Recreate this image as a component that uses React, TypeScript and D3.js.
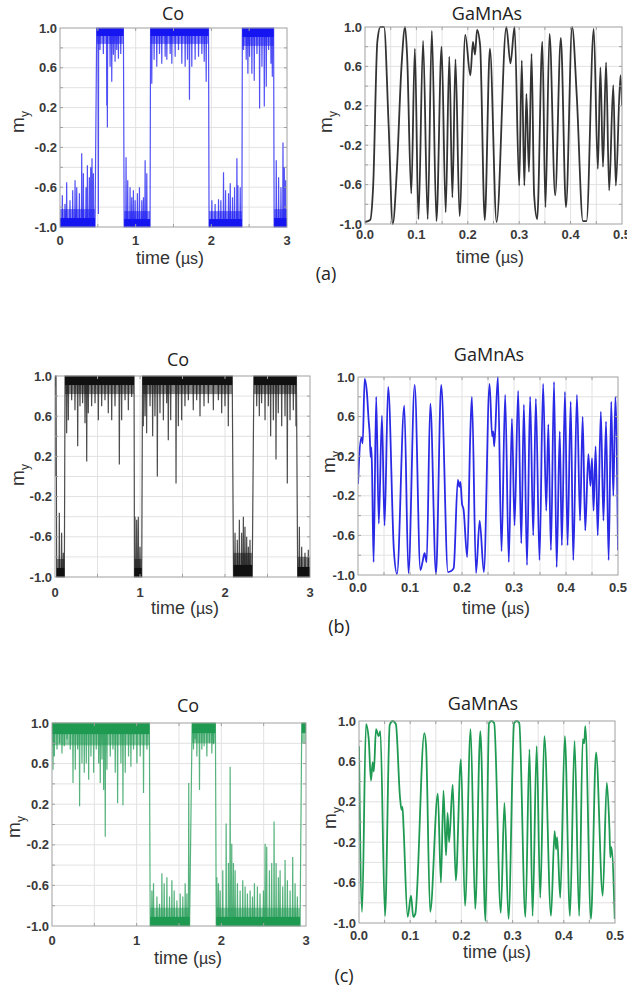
import React from "react";
import * as d3 from "d3";

type Pt = [number, number];
type Seg = [number, number, number, number]; // t0, t1, level, band edge

// ---------- axis values ----------
const yTickValues = [-1.0, -0.6, -0.2, 0.2, 0.6, 1.0];
const yGridValues = [-0.8, -0.6, -0.4, -0.2, 0, 0.2, 0.4, 0.6, 0.8];
const coTickValues = [0, 1, 2, 3];
const coGridValues = [0.5, 1, 1.5, 2, 2.5];
const gaTickValues = [0, 0.1, 0.2, 0.3, 0.4, 0.5];
const gaGridValues = [0.05, 0.1, 0.15, 0.2, 0.25, 0.3, 0.35, 0.4, 0.45];
const panelLetters = ["(a)", "(b)", "(c)"];
const panelTitles = ["Co", "GaMnAs"];

// ---------- Co (a) blue ----------
const coA_segments: Seg[] = [
  [0, 0.463, -1, -0.82],
  [0.485, 0.838, 1, 0.84],
  [0.848, 1.19, -1, -0.84],
  [1.197, 1.963, 1, 0.84],
  [1.97, 2.404, -1, -0.84],
  [2.41, 2.823, 1, 0.82],
  [2.83, 3.0, -1, -0.82],
];
const coA_spikes: Pt[] = [
  [0.031, -0.68], [0.066, -0.77], [0.088, -0.55], [0.132, -0.73], [0.168, -0.63], [0.199, -0.53], [0.221, -0.6],
  [0.256, -0.66], [0.287, -0.26], [0.309, -0.46], [0.344, -0.6], [0.362, -0.38], [0.388, -0.5], [0.406, -0.4],
  [0.423, -0.31], [0.441, -0.46],
  [0.507, -0.87], [0.529, 0.78], [0.573, 0.74], [0.618, 0.22], [0.626, 0.0], [0.662, 0.61], [0.684, 0.46],
  [0.706, 0.73], [0.728, 0.66], [0.75, 0.78], [0.772, 0.69], [0.803, 0.74],
  [0.873, -0.3], [0.895, -0.53], [0.926, -0.6], [0.948, -0.7], [0.97, -0.63], [0.993, -0.73], [1.023, -0.66],
  [1.05, -0.6], [1.081, -0.73], [1.103, -0.7], [1.125, -0.33], [1.147, -0.46],
  [1.213, 0.44], [1.244, 0.68], [1.279, 0.61], [1.315, 0.74], [1.345, 0.64], [1.39, 0.71], [1.412, 0.68],
  [1.456, 0.74], [1.478, 0.64], [1.522, 0.71], [1.566, 0.78], [1.61, 0.64], [1.654, 0.61], [1.685, 0.68],
  [1.711, 0.28], [1.742, 0.61], [1.786, 0.68], [1.831, 0.71], [1.875, 0.74], [1.906, 0.66], [1.932, 0.46],
  [2.007, -0.73], [2.05, -0.77], [2.095, -0.72], [2.126, -0.73], [2.161, -0.45], [2.188, -0.63], [2.227, -0.66],
  [2.25, -0.56], [2.28, -0.7], [2.307, -0.6], [2.338, -0.31], [2.351, -0.58], [2.382, -0.6],
  [2.426, 0.78], [2.461, 0.68], [2.483, 0.54], [2.505, 0.71], [2.536, 0.54], [2.567, 0.47], [2.603, 0.74],
  [2.638, 0.19], [2.669, 0.61], [2.7, 0.21], [2.726, 0.41], [2.757, 0.78], [2.788, 0.64], [2.806, 0.51],
  [2.858, -0.33], [2.889, -0.5], [2.92, -0.6], [2.947, -0.15], [2.964, -0.4], [2.982, -0.53],
];

// ---------- GaMnAs (a) black ----------
const gaA_values: Pt[] = [
  [0.0, -0.98], [0.01, -0.96], [0.016, -0.6], [0.024, 0.85], [0.03, 1.0], [0.037, 1.0], [0.046, 0.0], [0.054, -1.0],
  [0.062, -0.45], [0.071, 0.6], [0.078, 1.0], [0.082, 0.7], [0.09, -0.69], [0.097, 0.78], [0.104, -0.95],
  [0.113, 0.86], [0.122, -0.95], [0.13, 0.96], [0.139, -0.97], [0.149, 0.8], [0.157, -0.88], [0.164, 0.7],
  [0.17, -0.73], [0.176, 0.67], [0.184, -0.92], [0.195, 0.92], [0.205, 0.51], [0.21, 0.85], [0.214, 0.72],
  [0.218, 0.97], [0.224, 0.81], [0.233, -0.96], [0.243, 0.78], [0.256, -0.98], [0.275, 1.0], [0.283, 0.63],
  [0.291, 1.0], [0.3, -0.61], [0.305, 0.66], [0.31, -0.61], [0.314, 0.32], [0.319, -0.47], [0.324, 0.73],
  [0.329, -0.7], [0.335, -0.95], [0.345, 0.85], [0.351, -0.83], [0.359, 0.93], [0.37, -0.71], [0.381, 0.89],
  [0.391, -0.83], [0.403, 1.0], [0.412, 0.3], [0.424, -0.97], [0.431, -0.97], [0.445, 0.98], [0.453, -0.44],
  [0.458, 0.59], [0.463, -0.42], [0.469, 0.64], [0.475, -0.66], [0.483, 0.41], [0.488, -0.61], [0.497, 0.51],
  [0.5, 0.2],
];

// ---------- Co (b) black ----------
const coB_segments: Seg[] = [
  [0, 0.012, 1, 0.8],
  [0.02, 0.11, -1, -0.82],
  [0.118, 0.93, 1, 0.82],
  [0.935, 1.02, -1, -0.82],
  [1.03, 2.085, 1, 0.82],
  [2.1, 2.32, -1, -0.76],
  [2.34, 2.84, 1, 0.82],
  [2.855, 3.0, -1, -0.8],
];
const coB_spikes: Pt[] = [
  [0.006, 0.0], [0.051, -0.36], [0.078, -0.56], [0.098, -0.76],
  [0.137, 0.43], [0.157, 0.56], [0.196, 0.76], [0.235, 0.66], [0.267, 0.3], [0.294, 0.7], [0.325, 0.73],
  [0.353, 0.53], [0.373, 0.15], [0.392, 0.63], [0.431, 0.7], [0.471, 0.73], [0.51, 0.56], [0.549, 0.7],
  [0.588, 0.76], [0.627, 0.63], [0.667, 0.56], [0.706, 0.7], [0.757, 0.12], [0.784, 0.56], [0.824, 0.76],
  [0.863, 0.66], [0.902, 0.79],
  [0.941, -0.4], [0.961, -0.43], [0.98, -0.4], [1.0, -0.7],
  [1.039, 0.5], [1.059, 0.6], [1.078, 0.43], [1.118, 0.7], [1.149, 0.4], [1.176, 0.6], [1.204, 0.0],
  [1.235, 0.63], [1.275, 0.56], [1.314, 0.73], [1.333, 0.36], [1.361, 0.56], [1.424, -0.07], [1.451, 0.5],
  [1.49, 0.56], [1.529, 0.7], [1.569, 0.76], [1.627, 0.66], [1.667, 0.76], [1.706, 0.6], [1.753, 0.7],
  [1.804, 0.73], [1.863, 0.66], [1.922, 0.76], [1.961, 0.63], [2.0, 0.7], [2.039, 0.5],
  [2.118, -0.56], [2.145, -0.63], [2.169, -0.43], [2.196, -0.56], [2.216, -0.4], [2.235, -0.5], [2.255, -0.6],
  [2.275, -0.7], [2.294, -0.63],
  [2.373, 0.7], [2.404, 0.6], [2.431, 0.73], [2.471, 0.56], [2.51, 0.7], [2.537, 0.4], [2.569, 0.56],
  [2.6, 0.17], [2.627, 0.63], [2.667, 0.5], [2.706, 0.6], [2.733, -0.07], [2.765, 0.56], [2.804, 0.66],
  [2.835, 0.5],
  [2.875, -0.5], [2.902, -0.7], [2.941, -0.76], [2.98, -0.73],
];

// ---------- GaMnAs (b) blue ----------
const gaB_values: Pt[] = [
  [0.0, -0.08], [0.002, 0.16], [0.0065, 0.39], [0.009, 0.33], [0.0128, 0.98], [0.0173, 0.83], [0.0205, 0.56],
  [0.0224, 0.43], [0.0244, 0.19], [0.0256, 0.29], [0.027, 0.06], [0.03, -0.87], [0.035, 0.8], [0.04, -0.48],
  [0.046, 0.61], [0.051, -0.5], [0.058, 0.9], [0.069, -0.75], [0.075, -0.99], [0.089, 0.71], [0.097, -0.98],
  [0.109, 0.92], [0.12, -0.95], [0.124, -0.87], [0.128, -0.78], [0.132, -0.87], [0.139, 0.73], [0.15, -0.99],
  [0.16, 0.92], [0.173, -0.97], [0.179, -0.96], [0.184, -0.93], [0.192, -0.04], [0.195, -0.11], [0.197, -0.06],
  [0.2, -0.28], [0.203, -0.34], [0.21, -0.82], [0.216, 0.43], [0.219, 0.8], [0.227, -0.98], [0.234, -0.45],
  [0.242, -0.97], [0.253, 0.93], [0.258, 0.4], [0.26, 0.45], [0.262, 0.3], [0.269, 1.0], [0.276, -0.76],
  [0.283, 0.82], [0.29, -0.87], [0.296, 0.58], [0.301, -0.5], [0.308, 0.86], [0.314, -0.68], [0.319, 0.72],
  [0.325, -0.9], [0.331, 0.8], [0.337, -0.6], [0.342, 0.78], [0.349, -0.85], [0.356, 0.93], [0.362, -0.35],
  [0.366, 0.52], [0.371, -0.75], [0.377, 0.95], [0.382, -0.92], [0.388, 0.45], [0.392, -0.7], [0.398, 0.85],
  [0.403, -0.7], [0.409, 0.75], [0.414, -0.85], [0.421, 0.82], [0.427, -0.45], [0.432, 0.6], [0.437, -0.55],
  [0.443, 0.22], [0.447, -0.1], [0.45, 0.18], [0.453, -0.35], [0.457, 0.3], [0.461, -0.6], [0.467, 0.65],
  [0.472, -0.45], [0.477, 0.55], [0.482, -0.85], [0.487, 0.75], [0.491, -0.2], [0.495, 0.8], [0.5, -0.75],
];

// ---------- Co (c) green ----------
const coC_segments: Seg[] = [
  [0, 1.15, 1, 0.78],
  [1.16, 1.625, -1, -0.82],
  [1.655, 1.93, 1, 0.8],
  [1.94, 2.93, -1, -0.82],
  [2.95, 3.0, 1, 0.8],
];
const coC_spikes: Pt[] = [
  [0.012, 0.54], [0.028, 0.67], [0.059, 0.74], [0.09, 0.8], [0.118, 0.7], [0.145, 0.77], [0.177, 0.84],
  [0.216, 0.74], [0.248, 0.41], [0.275, 0.54], [0.303, 0.74], [0.326, 0.18], [0.354, 0.6], [0.381, 0.51],
  [0.405, 0.6], [0.433, 0.44], [0.46, 0.67], [0.492, 0.51], [0.523, 0.74], [0.551, 0.6], [0.57, 0.41],
  [0.59, 0.64], [0.61, 0.34], [0.629, -0.12], [0.649, 0.54], [0.688, 0.67], [0.72, 0.74], [0.747, 0.51],
  [0.775, 0.21], [0.814, 0.6], [0.838, 0.19], [0.865, 0.51], [0.904, 0.67], [0.932, 0.57], [0.963, 0.74],
  [1.003, 0.6], [1.042, 0.67], [1.081, 0.31], [1.121, 0.74],
  [1.18, -0.65], [1.199, -0.58], [1.239, -0.71], [1.27, -0.78], [1.298, -0.48], [1.325, -0.58], [1.357, -0.52],
  [1.388, -0.71], [1.416, -0.55], [1.443, -0.65], [1.475, -0.75], [1.514, -0.68], [1.545, -0.71], [1.573, -0.58],
  [1.593, -0.68], [1.615, 0.41],
  [1.671, 0.74], [1.691, 0.84], [1.711, 0.67], [1.742, 0.34], [1.77, 0.74], [1.797, 0.77], [1.829, 0.67],
  [1.86, 0.8], [1.888, 0.7], [1.907, 0.79],
  [1.947, -0.52], [1.966, -0.58], [1.986, -0.65], [2.017, -0.45], [2.057, 0.01], [2.084, -0.38], [2.104, 0.57],
  [2.123, -0.19], [2.143, -0.38], [2.163, -0.45], [2.19, -0.58], [2.222, -0.65], [2.253, -0.55], [2.281, -0.61],
  [2.308, -0.68], [2.34, -0.65], [2.368, -0.71], [2.391, -0.58], [2.426, -0.61], [2.457, -0.68], [2.497, -0.65],
  [2.517, -0.19], [2.536, -0.22], [2.568, -0.45], [2.595, -0.38], [2.623, 0.03], [2.647, -0.38], [2.674, -0.52],
  [2.694, -0.45], [2.725, -0.61], [2.753, -0.35], [2.78, -0.55], [2.812, -0.65], [2.843, -0.32], [2.871, -0.58],
  [2.898, -0.71],
];

// ---------- GaMnAs (c) green ----------
const gaC_values: Pt[] = [
  [0.0, 0.75], [0.006, -0.89], [0.0137, 0.97], [0.019, 0.82], [0.0234, 0.41], [0.0267, 0.59], [0.029, 0.5],
  [0.0332, 0.92], [0.0384, 0.85], [0.0417, 0.9], [0.0508, -0.93], [0.06, 0.96], [0.066, 1.0], [0.072, 0.97],
  [0.08, 0.25], [0.083, 0.12], [0.085, 0.15], [0.087, -0.05], [0.095, -0.94], [0.1016, -0.73], [0.106, -0.94],
  [0.11, -0.91], [0.1276, 0.88], [0.131, 0.75], [0.139, -0.89], [0.154, 0.28], [0.16, -0.6], [0.165, 0.31],
  [0.17, -0.33], [0.173, 0.09], [0.176, -0.2], [0.183, 0.37], [0.189, -0.58], [0.199, 0.62], [0.207, -0.83],
  [0.218, 0.92], [0.227, -0.86], [0.237, 0.9], [0.247, -0.98], [0.254, 0.98], [0.259, 1.0], [0.264, 0.98],
  [0.277, -0.9], [0.284, 0.19], [0.292, -0.96], [0.303, 0.98], [0.308, 1.0], [0.313, 0.98], [0.325, -0.94],
  [0.333, 0.72], [0.339, -0.93], [0.347, 0.75], [0.354, -0.75], [0.362, 0.85], [0.375, -0.93], [0.382, -0.09],
  [0.385, -0.27], [0.387, -0.15], [0.393, -0.75], [0.402, 0.85], [0.412, -0.93], [0.421, 0.8], [0.43, -0.93],
  [0.437, 0.82], [0.44, 0.78], [0.442, 0.95], [0.453, -0.96], [0.463, 0.69], [0.476, -0.73], [0.484, 0.39],
  [0.489, -0.05], [0.491, -0.35], [0.493, -0.25], [0.4995, -0.96],
];

// ---------- layout ----------
type Lay = {
  L: number; R: number; T: number; B: number;
  titleX: number; titleY: number; tickY: number;
  timeX: number; timeY: number; myX: number; myY: number;
};

const LAB = "'Liberation Sans', Arial, sans-serif";
const TIT = "'Open Sans', 'Noto Sans', sans-serif";

function coPath(segs: Seg[], spikes: Pt[]): Pt[] {
  const pts: Pt[] = [];
  segs.forEach(([t0, t1, lvl]) => {
    pts.push([t0, lvl]);
    spikes
      .filter((s) => s[0] > t0 && s[0] < t1)
      .forEach(([t, v]) => {
        pts.push([t - 0.004, lvl], [t, v], [t + 0.004, lvl]);
      });
    pts.push([t1, lvl]);
  });
  return pts;
}

function Panel(props: {
  lay: Lay; xMax: number; xTicks: number[]; xGrid: number[]; fmt: (v: number) => string;
  title: string; render: (x: d3.ScaleLinear<number, number>, y: d3.ScaleLinear<number, number>) => React.ReactNode;
}) {
  const { lay, xMax, xTicks, xGrid, fmt, title, render } = props;
  const x = d3.scaleLinear().domain([0, xMax]).range([lay.L, lay.R]);
  const y = d3.scaleLinear().domain([-1, 1]).range([lay.B, lay.T]);
  const id = `clip_${lay.L}_${lay.T}`;
  const tk = 3;
  return (
    <g>
      <defs>
        <clipPath id={id}>
          <rect x={lay.L} y={lay.T - 1} width={lay.R - lay.L} height={lay.B - lay.T + 2} />
        </clipPath>
      </defs>
      {xGrid.map((v) => (
        <line key={"gx" + v} x1={x(v)} x2={x(v)} y1={lay.T} y2={lay.B} stroke="#e2e2e2" strokeWidth={1} />
      ))}
      {yGridValues.map((v) => (
        <line key={"gy" + v} x1={lay.L} x2={lay.R} y1={y(v)} y2={y(v)} stroke="#e2e2e2" strokeWidth={1} />
      ))}
      <g clipPath={`url(#${id})`}>{render(x, y)}</g>
      <rect x={lay.L} y={lay.T} width={lay.R - lay.L} height={lay.B - lay.T} fill="none" stroke="#a0a0a0" strokeWidth={1} />
      {xGrid.map((v) => (
        <g key={"tx" + v} stroke="#a0a0a0">
          <line x1={x(v)} x2={x(v)} y1={lay.B} y2={lay.B - tk} />
          <line x1={x(v)} x2={x(v)} y1={lay.T} y2={lay.T + tk} />
        </g>
      ))}
      {yGridValues.map((v) => (
        <g key={"ty" + v} stroke="#a0a0a0">
          <line x1={lay.L} x2={lay.L + tk} y1={y(v)} y2={y(v)} />
          <line x1={lay.R} x2={lay.R - tk} y1={y(v)} y2={y(v)} />
        </g>
      ))}
      {yTickValues.map((v) => (
        <text key={"yl" + v} x={lay.L - 3} y={y(v) + 4.5} textAnchor="end" fontFamily={LAB} fontWeight="bold" fontSize={13} fill="#3a3a3a">
          {v.toFixed(1)}
        </text>
      ))}
      {xTicks.map((v) => (
        <text key={"xl" + v} x={x(v)} y={lay.tickY} textAnchor="middle" fontFamily={LAB} fontWeight="bold" fontSize={13} fill="#3a3a3a">
          {fmt(v)}
        </text>
      ))}
      <text x={lay.titleX} y={lay.titleY} textAnchor="middle" fontFamily={TIT} fontSize={18} fill="#222">
        {title}
      </text>
      <text x={lay.timeX} y={lay.timeY} textAnchor="middle" fontFamily={LAB} fontSize={18} fill="#333">
        time (<tspan fontSize={16}>µs</tspan>)
      </text>
      <text transform={`translate(${lay.myX + 6},${lay.myY}) rotate(-90)`} textAnchor="middle" fontFamily={LAB} fontSize={19} fill="#333">
        m<tspan fontSize={12} dy={5}>y</tspan>
      </text>
    </g>
  );
}

function CoSeries({ x, y, segs, spikes, color }: { x: any; y: any; segs: Seg[]; spikes: Pt[]; color: string }) {
  const line = d3.line<Pt>().x((d) => x(d[0])).y((d) => y(d[1]));
  return (
    <g>
      {segs.map((s, i) => {
        const core = s[2] + (s[3] - s[2]) * 0.5;
        return (
          <g key={i}>
            <rect x={x(s[0])} width={x(s[1]) - x(s[0])} y={Math.min(y(s[2]), y(s[3]))} height={Math.abs(y(s[2]) - y(s[3]))} fill={color} fillOpacity={0.5} />
            <rect x={x(s[0])} width={x(s[1]) - x(s[0])} y={Math.min(y(s[2]), y(core))} height={Math.abs(y(s[2]) - y(core))} fill={color} />
          </g>
        );
      })}
      <path d={line(coPath(segs, spikes)) || ""} fill="none" stroke={color} strokeWidth={1.2} strokeOpacity={0.75} />
    </g>
  );
}

function GaSeries({ x, y, values, color }: { x: any; y: any; values: Pt[]; color: string }) {
  const line = d3.line<Pt>().x((d) => x(d[0])).y((d) => y(d[1])).curve(d3.curveMonotoneX);
  return <path d={line(values) || ""} fill="none" stroke={color} strokeWidth={1.8} strokeLinejoin="round" />;
}

const layCoA: Lay = { L: 60, R: 287, T: 28, B: 227, titleX: 173, titleY: 20, tickY: 245, timeX: 170, timeY: 264, myX: 18, myY: 122 };
const layGaA: Lay = { L: 365, R: 622, T: 27, B: 224, titleX: 487, titleY: 20, tickY: 239, timeX: 490, timeY: 263, myX: 326, myY: 122 };
const layCoB: Lay = { L: 55, R: 310, T: 376, B: 577, titleX: 178, titleY: 366, tickY: 597, timeX: 185, timeY: 614, myX: 18, myY: 475 };
const layGaB: Lay = { L: 358, R: 618, T: 377, B: 575, titleX: 489, titleY: 361, tickY: 592, timeX: 496, timeY: 614, myX: 329, myY: 462 };
const layCoC: Lay = { L: 52, R: 306, T: 723, B: 926, titleX: 188, titleY: 712, tickY: 945, timeX: 188, timeY: 964, myX: 14, myY: 827 };
const layGaC: Lay = { L: 359, R: 615, T: 721, B: 923, titleX: 483, titleY: 710, tickY: 940, timeX: 497, timeY: 958, myX: 330, myY: 818 };

const BLUE = "#1616f2";
const BLACK_GA = "#333333";
const BLACK_CO = "#111111";
const BLUE_GA = "#2a2ae6";
const GREEN = "#1f9a52";

const fmtCo = (v: number) => d3.format("d")(v);
const fmtGa = (v: number) => d3.format(".1f")(v);

export default function App() {
  return (
    <svg width={627} height={998} style={{ position: "absolute", left: 0, top: 0, background: "#fff" }}>
      <rect width={627} height={998} fill="#fff" />
      <Panel lay={layCoA} xMax={3} xTicks={coTickValues} xGrid={coGridValues} fmt={fmtCo} title={panelTitles[0]}
        render={(x, y) => <CoSeries x={x} y={y} segs={coA_segments} spikes={coA_spikes} color={BLUE} />} />
      <Panel lay={layGaA} xMax={0.5} xTicks={gaTickValues} xGrid={gaGridValues} fmt={fmtGa} title={panelTitles[1]}
        render={(x, y) => <GaSeries x={x} y={y} values={gaA_values} color={BLACK_GA} />} />
      <Panel lay={layCoB} xMax={3} xTicks={coTickValues} xGrid={coGridValues} fmt={fmtCo} title={panelTitles[0]}
        render={(x, y) => <CoSeries x={x} y={y} segs={coB_segments} spikes={coB_spikes} color={BLACK_CO} />} />
      <Panel lay={layGaB} xMax={0.5} xTicks={gaTickValues} xGrid={gaGridValues} fmt={fmtGa} title={panelTitles[1]}
        render={(x, y) => <GaSeries x={x} y={y} values={gaB_values} color={BLUE_GA} />} />
      <Panel lay={layCoC} xMax={3} xTicks={coTickValues} xGrid={coGridValues} fmt={fmtCo} title={panelTitles[0]}
        render={(x, y) => <CoSeries x={x} y={y} segs={coC_segments} spikes={coC_spikes} color={GREEN} />} />
      <Panel lay={layGaC} xMax={0.5} xTicks={gaTickValues} xGrid={gaGridValues} fmt={fmtGa} title={panelTitles[1]}
        render={(x, y) => <GaSeries x={x} y={y} values={gaC_values} color={GREEN} />} />
      <text x={326} y={280} textAnchor="middle" fontFamily={TIT} fontSize={18} fill="#222">{panelLetters[0]}</text>
      <text x={339} y={633} textAnchor="middle" fontFamily={TIT} fontSize={18} fill="#222">{panelLetters[1]}</text>
      <text x={344} y={982} textAnchor="middle" fontFamily={TIT} fontSize={18} fill="#222">{panelLetters[2]}</text>
    </svg>
  );
}
